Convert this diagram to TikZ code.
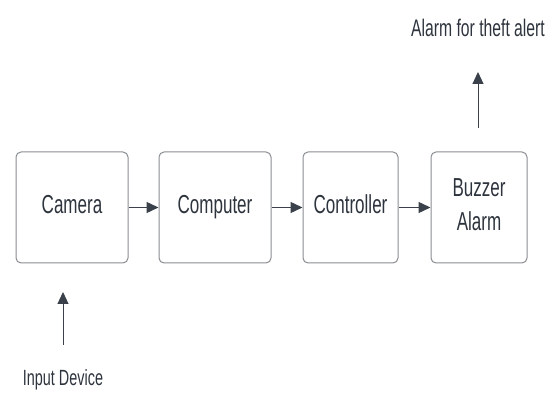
\documentclass[tikz,border=0pt]{standalone}
\usepackage{fontspec}
\setmainfont[FakeStretch=0.655]{Liberation Sans}
\usetikzlibrary{arrows.meta}
\definecolor{textgray}{HTML}{2E343D}
\definecolor{boxgray}{HTML}{8A8D92}
\definecolor{arrowgray}{HTML}{3A414A}
\begin{document}
\begin{tikzpicture}[
       x=1pt, y=1pt,
       block_style/.style={draw=boxgray, line width=1pt, rounded corners=5pt, fill=white,
                           minimum height=111pt, text=textgray, font=\fontsize{26}{30}\selectfont,
                           align=center, inner sep=0pt}, % 方框的样式
       flow_style/.style={draw=arrowgray, line width=1.4pt, -{Triangle[length=12pt,width=11pt]}}, % 连线的样式
       label_style/.style={text=textgray, font=\fontsize{24}{28}\selectfont, inner sep=0pt}
   ]

   \useasboundingbox (0,0) rectangle (555,396);

   % 1. 四个方框
   \node[block_style, minimum width=112pt] (camera) at (72,188.5) {\strut Camera};
   \node[block_style, minimum width=112pt] (computer) at (215,188.5) {\strut Computer};
   \node[block_style, minimum width=95pt] (controller) at (350.5,188.5) {\strut Controller};
   \node[block_style, minimum width=96pt] (buzzer) at (479,188.5) {\strut Buzzer\\[4pt]\strut Alarm};

   % 2. 方框之间的箭头
   \draw[flow_style] (camera) -- (computer);
   \draw[flow_style] (computer) -- (controller);
   \draw[flow_style] (controller) -- (buzzer);

   % 3. 输入与输出
   \node[label_style, font=\fontsize{22}{26}\selectfont] (input) at (63,16) {Input Device};
   \coordinate (input_foot) at (63,51);
   \coordinate (input_top) at (63,104);
   \draw[flow_style, line width=1pt] (input_foot) -- (input_top);

   \node[label_style] (alert) at (478,368) {Alarm for theft alert};
   \coordinate (alert_foot) at (478,268);
   \coordinate (alert_tip) at (478,324);
   \draw[flow_style, line width=1pt] (alert_foot) -- (alert_tip);

   \end{tikzpicture}
\end{document}
